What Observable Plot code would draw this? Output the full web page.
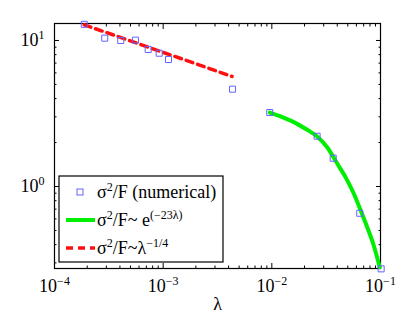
<!DOCTYPE html>
<html><head><meta charset="utf-8">
<script src="https://cdn.jsdelivr.net/npm/d3@7"></script>
<script src="https://cdn.jsdelivr.net/npm/@observablehq/plot@0.6"></script>
<style>body{margin:0;background:#fff}</style>
</head><body><div id="chart"></div>
<script>
// numerical points
const numLambda = [1.88e-4, 2.9e-4, 4.07e-4, 5.56e-4, 7.28e-4, 9.19e-4, 1.12e-3, 4.35e-3, 9.57e-3, 2.61e-2, 3.67e-2, 6.44e-2, 1.014e-1];
const numSigma  = [12.9, 10.37, 10.0, 10.05, 8.68, 8.18, 7.41, 4.64, 3.21, 2.21, 1.563, 0.656, 0.273];
// exponential fit curve
const expLambda = [0.00957, 0.01202, 0.01592, 0.02113, 0.02612, 0.03227, 0.0367, 0.04285, 0.04764, 0.05675, 0.06546, 0.07551, 0.08573, 0.0984];
const expSigma  = [3.21, 3.02, 2.76, 2.445, 2.20, 1.858, 1.60, 1.32, 1.16, 0.895, 0.69, 0.526, 0.405, 0.280];
// power-law fit line
const powLambda = [1.877e-4, 4.31e-3];
const powSigma  = [12.81, 5.67];
// axes
const xDomain = [1e-4, 1e-1];
const yDomain = [0.2745, 13.07];
const xTickExps = [-4, -3, -2, -1];
const yTickExps = [0, 1];
const xLabel = "λ";

const xMajor = xTickExps.map(e => Math.pow(10, e));
const yMajor = yTickExps.map(e => Math.pow(10, e));
function minors(lo, hi) {
  const out = [];
  for (let e = Math.floor(Math.log10(lo)); e <= Math.ceil(Math.log10(hi)); e++)
    for (let m = 2; m <= 9; m++) { const v = m * Math.pow(10, e); if (v >= lo && v <= hi) out.push(v); }
  return out;
}
const xMinor = minors(xDomain[0], xDomain[1]);
const yMinor = minors(yDomain[0], yDomain[1]);
const fmt = d => "10^" + Math.round(Math.log10(d));

const numData = numLambda.map((x, i) => ({x, y: numSigma[i]}));
const expData = expLambda.map((x, i) => ({x, y: expSigma[i]}));
const powData = powLambda.map((x, i) => ({x, y: powSigma[i]}));

const blue = "#6464ff", green = "#00ee00", red = "#ff1010";
const font = "'Liberation Serif', 'Times New Roman', serif";

const chart = Plot.plot({
  width: 420, height: 316,
  marginLeft: 54, marginRight: 40, marginTop: 23, marginBottom: 48,
  style: {fontFamily: font, fontSize: "18px", background: "#fff", color: "#000"},
  x: {type: "log", domain: xDomain},
  y: {type: "log", domain: yDomain},
  marks: [
    Plot.axisX(xMajor, {anchor: "bottom", tickSize: -5, tickPadding: 16, tickFormat: fmt, fontSize: 18, label: null}),
    Plot.axisX(xMinor, {anchor: "bottom", tickSize: -2.5, tickFormat: () => "", label: null}),
    Plot.axisX(xMajor, {anchor: "top", tickSize: -5, tickFormat: () => "", label: null}),
    Plot.axisX(xMinor, {anchor: "top", tickSize: -2.5, tickFormat: () => "", label: null}),
    Plot.axisY(yMajor, {anchor: "left", tickSize: -5, tickPadding: 15, tickFormat: fmt, fontSize: 18, label: null}),
    Plot.axisY(yMinor, {anchor: "left", tickSize: -2.5, tickFormat: () => "", label: null}),
    Plot.axisY(yMajor, {anchor: "right", tickSize: -5, tickFormat: () => "", label: null}),
    Plot.axisY(yMinor, {anchor: "right", tickSize: -2.5, tickFormat: () => "", label: null}),
    Plot.frame({stroke: "#000", strokeWidth: 1.2}),
    Plot.line(expData, {x: "x", y: "y", stroke: green, strokeWidth: 4, curve: "catmull-rom"}),
    Plot.line(powData, {x: "x", y: "y", stroke: red, strokeWidth: 3.5, strokeDasharray: "7,5"}),
    Plot.dot(numData, {x: "x", y: "y", symbol: "square", r: 3.4, stroke: blue, strokeWidth: 1, fill: "none"}),
    Plot.text([xLabel], {frameAnchor: "bottom", dy: 36, lineAnchor: "middle", fontSize: 18, text: d => d})
  ]
});

document.getElementById("chart").appendChild(chart);
const svg = d3.select(chart);

// superscripts in tick labels
svg.selectAll("text").each(function() {
  const t = this.textContent;
  const m = /^10\^(-?\d+)$/.exec(t);
  if (!m) return;
  const el = d3.select(this);
  el.text("");
  el.append("tspan").text("10");
  el.append("tspan").attr("dy", "-7").attr("font-size", 12).text(m[1].replace("-", "\u2212"));
});

// legend
const lg = svg.append("g").attr("font-family", font).attr("font-size", 18).attr("text-anchor", "start");
lg.append("rect").attr("x", 59).attr("y", 176).attr("width", 164).attr("height", 86)
  .attr("fill", "#fff").attr("stroke", "#000").attr("stroke-width", 1.2);
lg.append("rect").attr("x", 77).attr("y", 189).attr("width", 6).attr("height", 6)
  .attr("fill", "none").attr("stroke", blue).attr("stroke-width", 1);
lg.append("line").attr("x1", 66).attr("x2", 95).attr("y1", 220).attr("y2", 220)
  .attr("stroke", green).attr("stroke-width", 4);
lg.append("line").attr("x1", 66).attr("x2", 95).attr("y1", 248).attr("y2", 248)
  .attr("stroke", red).attr("stroke-width", 3.5).attr("stroke-dasharray", "7,5");
function entry(y, parts) {
  const t = lg.append("text").attr("x", 97).attr("y", y).attr("text-anchor", "start");
  let shift = 0;
  parts.forEach(([s, sup]) => {
    const ts = t.append("tspan").text(s);
    const target = sup ? -7 : 0;
    if (target !== shift) { ts.attr("dy", target - shift); shift = target; }
    if (sup) ts.attr("font-size", 12);
  });
}
entry(198, [["σ"], ["2", 1], ["/F (numerical)"]]);
entry(226, [["σ"], ["2", 1], ["/F~ e"], ["(\u221223λ)", 1]]);
entry(254, [["σ"], ["2", 1], ["/F~λ"], ["\u22121/4", 1]]);
</script>
</body></html>
